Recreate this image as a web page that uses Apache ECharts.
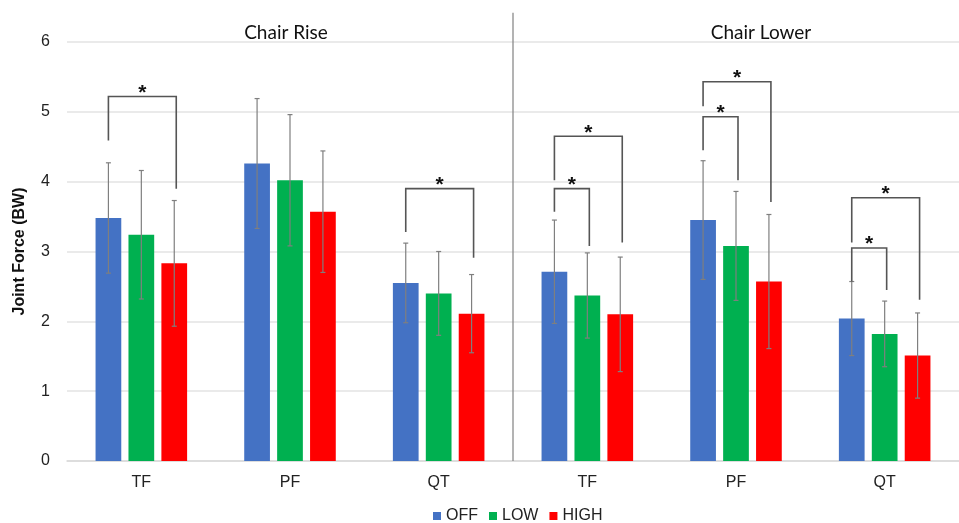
<!DOCTYPE html>
<html>
<head>
<meta charset="utf-8">
<script src="https://cdn.jsdelivr.net/npm/echarts@6/dist/echarts.min.js"></script>
<style>html,body{margin:0;padding:0;background:#fff;}#c{width:959px;height:523px;}</style>
</head>
<body>
<div id="c"></div>
<script>
const categories = ['TF', 'PF', 'QT', 'TF', 'PF', 'QT'];
const groupTitles = ['Chair Rise', 'Chair Lower'];
const seriesNames = ['OFF', 'LOW', 'HIGH'];
const offMean  = [3.48, 4.26, 2.55, 2.71, 3.45, 2.04];
const lowMean  = [3.24, 4.02, 2.40, 2.37, 3.08, 1.82];
const highMean = [2.83, 3.57, 2.11, 2.10, 2.57, 1.51];
const offSD  = [0.79, 0.93, 0.57, 0.74, 0.85, 0.53];
const lowSD  = [0.92, 0.94, 0.60, 0.61, 0.78, 0.47];
const highSD = [0.90, 0.87, 0.56, 0.82, 0.96, 0.61];
// significance brackets: [category, fromSeries, toSeries, topValue, leftLegBottom, rightLegBottom]
const brackets = [
  [0, 0, 2, 5.22, 4.59, 3.90],
  [2, 0, 2, 3.90, 3.28, 2.91],
  [3, 0, 1, 3.90, 3.57, 3.08],
  [3, 0, 2, 4.65, 4.02, 3.13],
  [4, 0, 1, 4.93, 4.45, 4.02],
  [4, 0, 2, 5.43, 5.08, 3.71],
  [5, 0, 2, 3.77, 3.13, 2.31],
  [5, 0, 1, 3.05, 2.57, 2.45]
];
const yTicks = [0, 1, 2, 3, 4, 5, 6];

const colors = ['#4472C4', '#00B050', '#FF0000'];
const means = [offMean, lowMean, highMean];
const sds = [offSD, lowSD, highSD];
const BAR_W = 0.173, BAR_GAP = 0.28;
const step = BAR_W * (1 + BAR_GAP);

const errData = [];
means.forEach((m, s) => m.forEach((v, i) => errData.push([i, s, v - sds[s][i], v + sds[s][i]])));

const chart = echarts.init(document.getElementById('c'));
const font = '"Liberation Sans"';

const barSeries = seriesNames.map((n, s) => ({
  name: n, type: 'bar', data: means[s],
  barWidth: (BAR_W * 100) + '%', barGap: (BAR_GAP * 100) + '%',
  itemStyle: { color: colors[s] },
  emphasis: { disabled: true }
}));

chart.setOption({
  animation: false,
  color: colors,
  title: [
    { text: groupTitles[0], left: 281, top: 18, textAlign: 'center',
      textStyle: { fontFamily: 'Lato', fontWeight: 'normal', fontSize: 19, color: '#111' } },
    { text: groupTitles[1], left: 756, top: 18, textAlign: 'center',
      textStyle: { fontFamily: 'Lato', fontWeight: 'normal', fontSize: 19, color: '#111' } }
  ],
  legend: {
    data: seriesNames, top: 503, left: 428, itemWidth: 8, itemHeight: 8, itemGap: 11,
    icon: 'rect', textStyle: { fontFamily: font, fontSize: 16, color: '#222' }
  },
  grid: { left: 67, right: -11, top: 42, bottom: 62 },
  xAxis: {
    type: 'category', data: categories,
    axisLine: { lineStyle: { color: '#d9d9d9', width: 1.5 } },
    axisTick: { show: false },
    axisLabel: { fontFamily: font, fontSize: 16, color: '#222', margin: 14 }
  },
  yAxis: {
    type: 'value', min: yTicks[0], max: yTicks[yTicks.length - 1], interval: 1,
    name: 'Joint Force (BW)', nameLocation: 'middle', nameGap: 39, nameRotate: 90,
    nameTextStyle: { fontFamily: font, fontSize: 16, fontWeight: 'bold', color: '#111' },
    axisLine: { show: false }, axisTick: { show: false },
    axisLabel: { fontFamily: font, fontSize: 16, color: '#222', margin: 17 },
    splitLine: { lineStyle: { color: '#e3e3e3', width: 1.5 } }
  },
  series: [
    ...barSeries,
    {
      type: 'custom', name: 'err', silent: true, z: 5,
      data: errData,
      renderItem: (params, api) => {
        const c = api.value(0), s = api.value(1);
        const bw = api.size([1, 0])[0];
        const x = api.coord([c, 0])[0] + (s - 1) * step * bw;
        const lo = api.coord([c, api.value(2)])[1];
        const hi = api.coord([c, api.value(3)])[1];
        const st = { stroke: '#7f7f7f', lineWidth: 1.2 };
        return { type: 'group', children: [
          { type: 'line', shape: { x1: x, y1: lo, x2: x, y2: hi }, style: st },
          { type: 'line', shape: { x1: x - 2.5, y1: lo, x2: x + 2.5, y2: lo }, style: st },
          { type: 'line', shape: { x1: x - 2.5, y1: hi, x2: x + 2.5, y2: hi }, style: st }
        ]};
      }
    },
    {
      type: 'custom', name: 'sig', silent: true, z: 6,
      data: brackets,
      renderItem: (params, api) => {
        const c = api.value(0), a = api.value(1), b = api.value(2);
        const bw = api.size([1, 0])[0];
        const cx = api.coord([c, 0])[0];
        const x1 = cx + (a - 1) * step * bw;
        const x2 = cx + (b - 1) * step * bw + 2;
        const yt = api.coord([c, api.value(3)])[1];
        const yl = api.coord([c, api.value(4)])[1];
        const yr = api.coord([c, api.value(5)])[1];
        return { type: 'group', children: [
          { type: 'polyline', shape: { points: [[x1, yl], [x1, yt], [x2, yt], [x2, yr]] },
            style: { stroke: '#555', lineWidth: 1.6, fill: null } },
          { type: 'text', style: { text: '*', x: (x1 + x2) / 2, y: yt + 7, align: 'center', verticalAlign: 'bottom',
            fontFamily: font, fontWeight: 'bold', fontSize: 21, fill: '#111' } }
        ]};
      }
    },
    {
      type: 'custom', name: 'divider', silent: true, z: 4,
      data: [[2, 3]],
      renderItem: (params, api) => {
        const x = (api.coord([api.value(0), 0])[0] + api.coord([api.value(1), 0])[0]) / 2;
        const y0 = api.coord([api.value(0), 0])[1];
        const y1 = api.coord([api.value(0), 6.42])[1];
        return { type: 'line', shape: { x1: x, y1: y0, x2: x, y2: y1 }, style: { stroke: '#808080', lineWidth: 1.2 } };
      }
    }
  ]
});
</script>
</body>
</html>
